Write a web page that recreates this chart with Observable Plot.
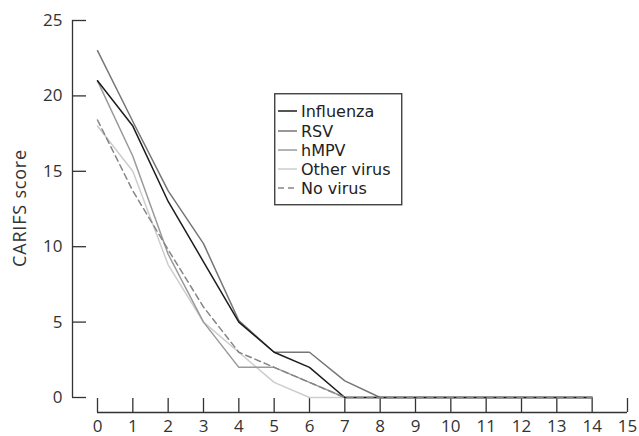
<!DOCTYPE html>
<html>
<head>
<meta charset="utf-8">
<script src="https://cdn.jsdelivr.net/npm/d3@7"></script>
<script src="https://cdn.jsdelivr.net/npm/@observablehq/plot@0.6"></script>
<style>
  html, body { margin: 0; padding: 0; background: #fff; }
  #wrap { position: relative; width: 639px; height: 436px; font-family: "Open Sans", Lato, sans-serif; }
  #legend { position: absolute; left: 274px; top: 93px; }
</style>
</head>
<body>
<div id="wrap"></div>
<script>
// Day after presentation
const days = [0,1,2,3,4,5,6,7,8,9,10,11,12,13,14];
const influenza  = [21, 18, 13, 9, 5, 3, 2, 0, 0, 0, 0, 0, 0, 0, 0];
const rsv        = [23, 18.3, 13.7, 10.2, 5.1, 3, 3, 1.1, 0, 0, 0, 0, 0, 0, 0];
const hmpv       = [21, 16, 9.5, 5, 2, 2, 1, 0, 0, 0, 0, 0, 0, 0, 0];
const otherVirus = [18, 15, 8.8, 5, 3, 1, 0, 0, 0, 0, 0, 0, 0, 0, 0];
const noVirus    = [18.4, 13.7, 9.8, 6, 3, 2, 1, 0, 0, 0, 0, 0, 0, 0, 0];

const seriesNames = ["Influenza", "RSV", "hMPV", "Other virus", "No virus"];
const seriesValues = [influenza, rsv, hmpv, otherVirus, noVirus];
const seriesColors = ["#1c1c1c", "#767676", "#9a9a9a", "#cdcdcd", "#858585"];
const seriesDash = [null, null, null, null, "6,4"];

const xTicks = [0,1,2,3,4,5,6,7,8,9,10,11,12,13,14,15];
const yTicks = [0,5,10,15,20,25];
const yLabel = "CARIFS score";

const series = seriesNames.map((name, i) => ({
  name, color: seriesColors[i], dash: seriesDash[i],
  data: days.map((d, j) => ({day: d, score: seriesValues[i][j]}))
}));

const drawOrder = [3, 2, 1, 0, 4];
const axisColor = "#333";
const fontFam = "'Open Sans', Lato, sans-serif";

const chart = Plot.plot({
  width: 639,
  height: 436,
  marginLeft: 97,
  marginRight: 12,
  marginTop: 20,
  marginBottom: 39,
  style: {fontFamily: fontFam, fontSize: "17px", color: "#333", background: "#fff"},
  x: {domain: [0, 15], axis: null},
  y: {domain: [0, 25], axis: null},
  marks: [
    // y axis line and inward ticks
    Plot.ruleX([0], {dx: -25, stroke: axisColor, strokeWidth: 1.3}),
    Plot.ruleY(yTicks, {y: d => d, insetLeft: -25, insetRight: 541, stroke: axisColor, strokeWidth: 1.3}),
    Plot.axisY({ticks: yTicks, tickSize: 0, tickPadding: 35, fontSize: 17, fill: "#333", label: null}),
    // x axis line and upward ticks
    Plot.ruleY([0], {dy: 15, stroke: axisColor, strokeWidth: 1.3}),
    Plot.ruleX(xTicks, {x: d => d, insetTop: 378, insetBottom: -15, stroke: axisColor, strokeWidth: 1.3}),
    Plot.axisX({ticks: xTicks, tickSize: 0, tickPadding: 22, tickFormat: d => d, fontSize: 17, fill: "#333", label: null}),
    // y label
    Plot.text([yLabel], {frameAnchor: "left", textAnchor: "middle", rotate: -90, dx: -77, dy: -1,
      fontSize: 18, fill: "#333"}),
    // series lines
    ...drawOrder.map(i => Plot.line(series[i].data, {
      x: "day", y: "score", stroke: series[i].color, strokeWidth: 1.5,
      strokeDasharray: series[i].dash
    }))
  ]
});

const wrap = document.getElementById("wrap");
wrap.appendChild(chart);
// letter spacing on the y label
d3.select(chart).selectAll("text").filter(function() { return this.textContent === yLabel; })
  .style("letter-spacing", "0.8px");

// legend inside the plot area
const lg = d3.select(wrap).append("svg")
  .attr("id", "legend")
  .attr("width", 130).attr("height", 114)
  .style("font-family", "'DejaVu Sans', sans-serif");
lg.append("rect").attr("x", 0.75).attr("y", 0.75).attr("width", 127).attr("height", 111)
  .attr("fill", "#fff").attr("stroke", "#333").attr("stroke-width", 1.3);
const rowY = [18, 38, 57, 76, 95];
series.forEach((s, i) => {
  lg.append("line").attr("x1", 4).attr("x2", 23).attr("y1", rowY[i]).attr("y2", rowY[i])
    .attr("stroke", s.color).attr("stroke-width", 1.5)
    .attr("stroke-dasharray", s.dash ? "6,4" : null);
  lg.append("text").attr("x", 27).attr("y", rowY[i]).attr("dy", "0.36em")
    .attr("font-size", 16).attr("fill", "#222").text(s.name);
});
</script>
</body>
</html>
